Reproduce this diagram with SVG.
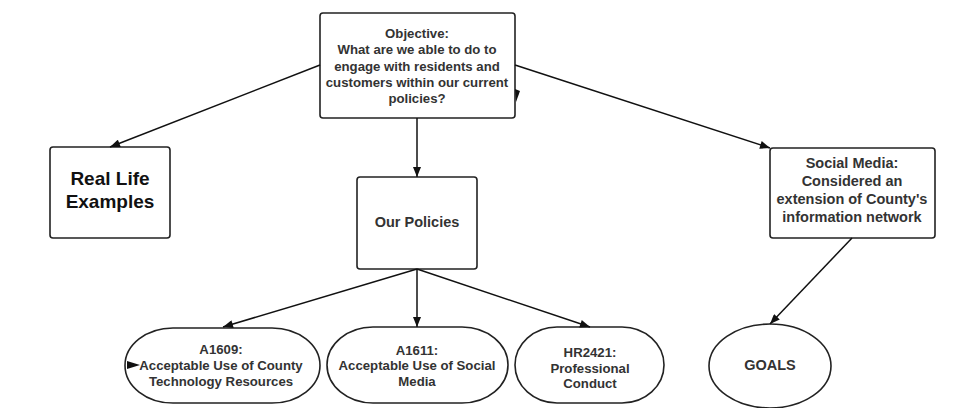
<svg xmlns="http://www.w3.org/2000/svg" width="977" height="408" viewBox="0 0 977 408">
<style>
.box{fill:#fff;stroke:#222;stroke-width:1.6}
.t{font-family:"Liberation Sans",Arial,sans-serif;font-weight:bold;fill:#333;text-anchor:middle}
.s13{font-size:13.2px}
.s14{font-size:14.5px}
.s19{font-size:19px;fill:#111}
.c{fill:none;stroke:#111;stroke-width:1.5}
</style>
<defs>
<marker id="ah" viewBox="0 0 10 8" refX="10" refY="4" markerWidth="11" markerHeight="8" markerUnits="userSpaceOnUse" orient="auto">
<path d="M0,0 L10,4 L0,8 Z" fill="#111"/>
</marker>
</defs>
<rect width="977" height="408" fill="#fff"/>
<g id="objective">
<rect class="box" x="320" y="13" width="195" height="105" rx="3"/>
<text class="t s13" x="417" y="38">Objective:</text>
<text class="t s13" x="417" y="54">What are we able to do to</text>
<text class="t s13" x="417" y="71">engage with residents and</text>
<text class="t s13" x="417" y="87">customers within our current</text>
<text class="t s13" x="417" y="103">policies?</text>
</g>
<g id="real-life">
<rect class="box" x="50" y="147" width="120" height="91" rx="3"/>
<text class="t s19" x="110" y="185">Real Life</text>
<text class="t s19" x="110" y="208">Examples</text>
</g>
<g id="social-media">
<rect class="box" x="770" y="148" width="165" height="90" rx="3"/>
<text class="t s14" x="852" y="168">Social Media:</text>
<text class="t s14" x="852" y="186">Considered an</text>
<text class="t s14" x="852" y="204">extension of County's</text>
<text class="t s14" x="852" y="222">information network</text>
</g>
<g id="our-policies">
<rect class="box" x="357" y="177" width="120" height="92" rx="3"/>
<text class="t s14" x="417" y="227">Our Policies</text>
</g>
<g id="a1609">
<rect class="box" x="125" y="328" width="195" height="75" rx="48" ry="37.5"/>
<text class="t s13" x="221" y="354">A1609:</text>
<text class="t s13" x="221" y="370">Acceptable Use of County</text>
<text class="t s13" x="221" y="386">Technology Resources</text>
</g>
<g id="a1611">
<rect class="box" x="327" y="327" width="181" height="76" rx="46" ry="38"/>
<text class="t s13" x="417" y="355">A1611:</text>
<text class="t s13" x="417" y="370">Acceptable Use of Social</text>
<text class="t s13" x="417" y="386">Media</text>
</g>
<g id="hr2421">
<rect class="box" x="515" y="327" width="149" height="76" rx="42" ry="38"/>
<text class="t s13" x="590" y="357">HR2421:</text>
<text class="t s13" x="590" y="373">Professional</text>
<text class="t s13" x="590" y="388">Conduct</text>
</g>
<g id="goals">
<ellipse class="box" cx="770" cy="366" rx="61" ry="42"/>
<text class="t s14" x="770" y="370">GOALS</text>
</g>
<g id="connectors">
<line class="c" x1="320" y1="65" x2="110" y2="147" marker-end="url(#ah)"/>
<line class="c" x1="515" y1="65" x2="770" y2="148" marker-end="url(#ah)"/>
<line class="c" x1="417" y1="118" x2="417" y2="177" marker-end="url(#ah)"/>
<line class="c" x1="417" y1="269" x2="223" y2="327" marker-end="url(#ah)"/>
<line class="c" x1="417" y1="269" x2="417" y2="327" marker-end="url(#ah)"/>
<line class="c" x1="417" y1="269" x2="590" y2="327" marker-end="url(#ah)"/>
<line class="c" x1="852" y1="238" x2="770" y2="324" marker-end="url(#ah)"/>
<polygon points="515,89 520,91 516,102" fill="#111"/>
<polygon points="127,361 140,365 127,369" fill="#111"/>
</g>
</svg>
